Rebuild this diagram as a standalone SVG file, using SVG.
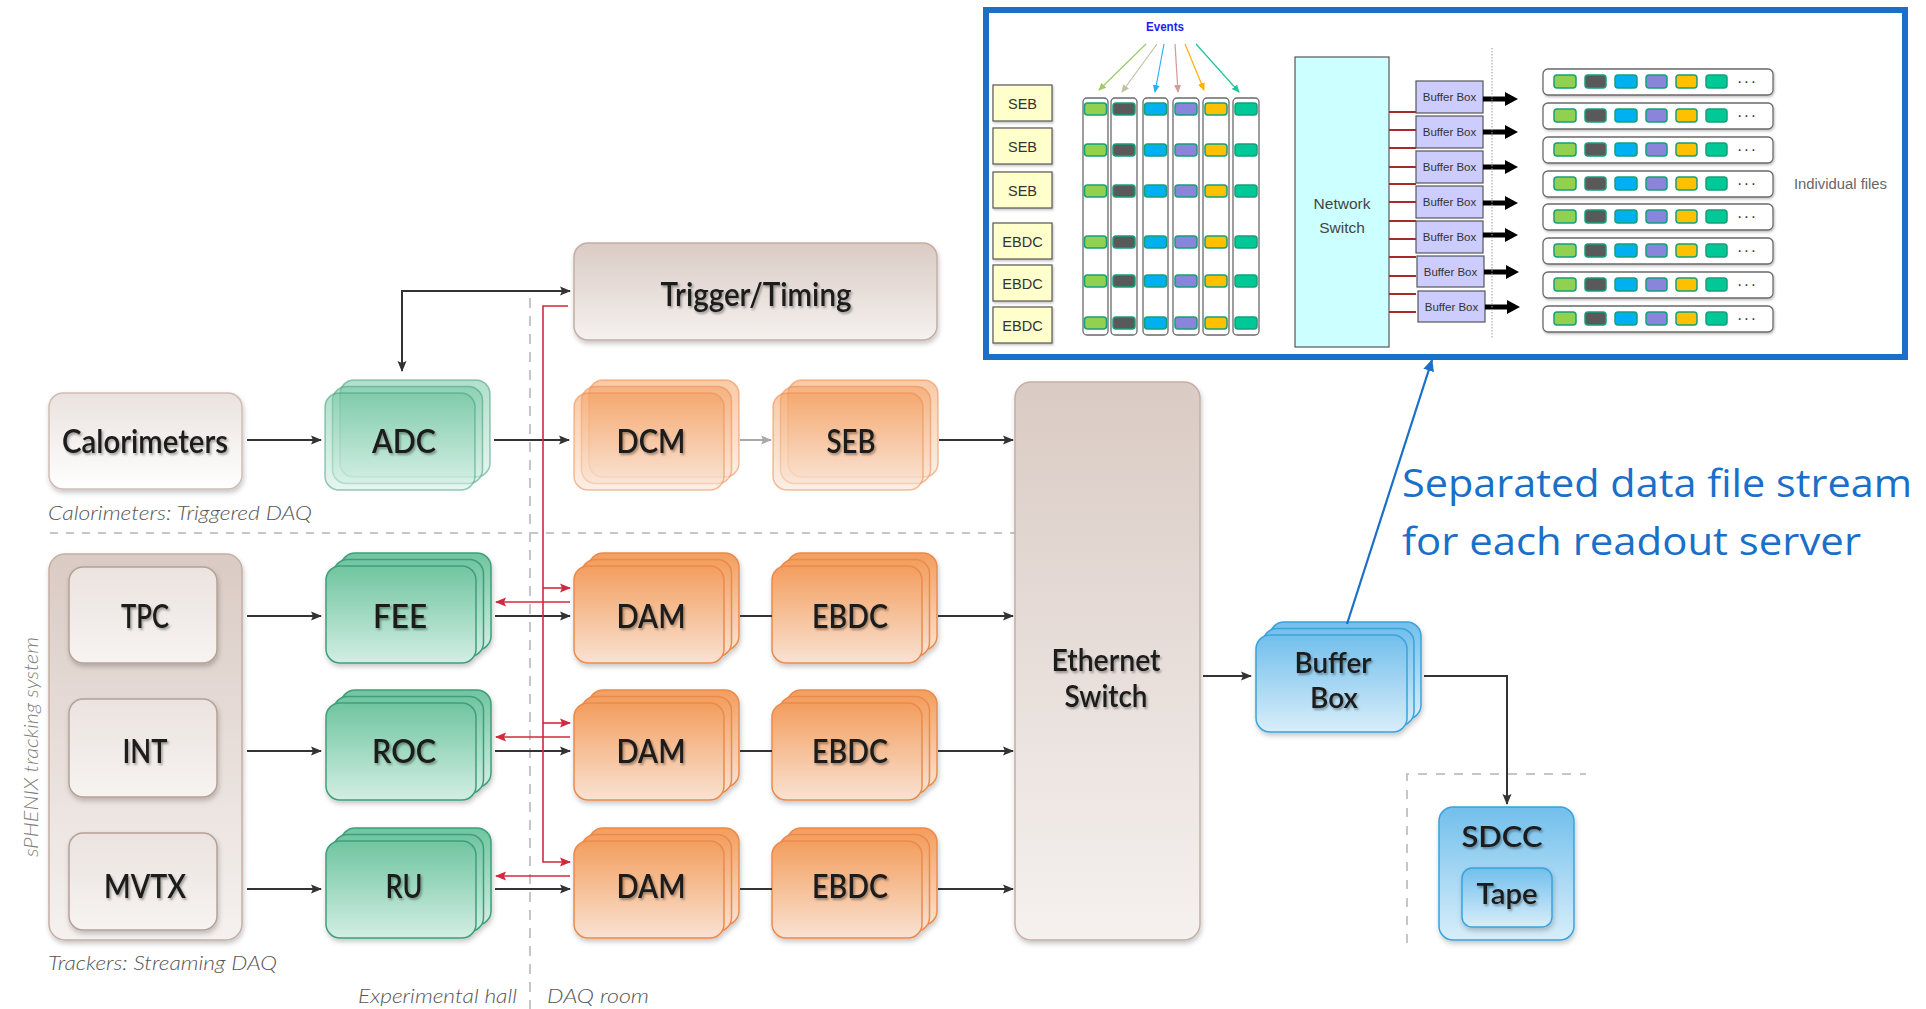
<svg xmlns="http://www.w3.org/2000/svg" width="1926" height="1009" viewBox="0 0 1926 1009">
<defs>
<style>
.lbl{font-family:Lato,"Liberation Sans",sans-serif;font-size:32px;font-weight:600;fill:#1a1a1a;text-anchor:middle;filter:url(#ts)}
.cap{font-family:Lato,"Liberation Sans",sans-serif;font-style:italic;font-weight:300;font-size:20px;fill:#555}
.ar{font-family:"Liberation Sans",Arial,sans-serif;fill:#333;text-anchor:middle}
.g rect{fill:url(#gGreen);stroke:#3f9e7b;stroke-width:1.5}
.o rect{fill:url(#gOrange);stroke:#ec8a4c;stroke-width:1.5}
.b rect{fill:url(#gBlue);stroke:#3aa3dc;stroke-width:1.5}
.fade rect{fill-opacity:.55;stroke-opacity:.55}
.beige{fill:url(#gBeige);stroke:#c4aea4;stroke-width:1.5}
.blk{stroke:#333;stroke-width:2;fill:none}
.red{stroke:#cf2a3d;stroke-width:1.6;fill:none}
.sq{stroke:#14a07a;stroke-width:1.5}
.row{fill:#fff;stroke:#6a6a6a;stroke-width:1.3}
.col{fill:#fff;stroke:#6a6a6a;stroke-width:1.3}
.yb{fill:#ffffcc;stroke:#555;stroke-width:1.2}
.bb{fill:#ccccff;stroke:#555;stroke-width:1.2}
.rl{stroke:#a52a2a;stroke-width:2}
</style>
<linearGradient id="gGreen" x1="0" y1="0" x2="0" y2="1"><stop offset="0" stop-color="#70c5a0"/><stop offset="1" stop-color="#d2eee4"/></linearGradient>
<linearGradient id="gOrange" x1="0" y1="0" x2="0" y2="1"><stop offset="0" stop-color="#f39e5e"/><stop offset="1" stop-color="#f9e2d2"/></linearGradient>
<linearGradient id="gBlue" x1="0" y1="0" x2="0" y2="1"><stop offset="0" stop-color="#72bfec"/><stop offset="1" stop-color="#d8eefa"/></linearGradient>
<linearGradient id="gBeige" x1="0" y1="0" x2="0" y2="1"><stop offset="0" stop-color="#dacbc4"/><stop offset="1" stop-color="#f5f1ef"/></linearGradient>
<linearGradient id="gCal" x1="0" y1="0" x2="0" y2="1"><stop offset="0" stop-color="#eae2de"/><stop offset="1" stop-color="#ffffff"/></linearGradient>
<linearGradient id="gDet" x1="0" y1="0" x2="0" y2="1"><stop offset="0" stop-color="#ebe3df"/><stop offset="1" stop-color="#f6f3f1"/></linearGradient>
<filter id="ts" x="-10%" y="-20%" width="130%" height="160%"><feDropShadow dx="1.5" dy="2" stdDeviation="1.3" flood-color="#000" flood-opacity="0.35"/></filter>
<filter id="bs" x="-10%" y="-10%" width="130%" height="130%"><feDropShadow dx="1" dy="3" stdDeviation="2.5" flood-color="#000" flood-opacity="0.22"/></filter>
<filter id="ss" x="-10%" y="-10%" width="130%" height="140%"><feDropShadow dx="1" dy="1.5" stdDeviation="1" flood-color="#000" flood-opacity="0.25"/></filter>
<marker id="ak" markerUnits="userSpaceOnUse" markerWidth="11" markerHeight="10" refX="10" refY="5" orient="auto-start-reverse"><path d="M0,0.5 L11,5 L0,9.5 L2,5 z" fill="#333"/></marker>
<marker id="ag" markerUnits="userSpaceOnUse" markerWidth="11" markerHeight="10" refX="10" refY="5" orient="auto"><path d="M0,0.5 L11,5 L0,9.5 L2,5 z" fill="#a8a8a8"/></marker>
<marker id="ar" markerUnits="userSpaceOnUse" markerWidth="11" markerHeight="10" refX="10" refY="5" orient="auto"><path d="M0,0.5 L11,5 L0,9.5 L2,5 z" fill="#cf2a3d"/></marker>
<marker id="ab" markerUnits="userSpaceOnUse" markerWidth="12" markerHeight="12" refX="11" refY="6" orient="auto"><path d="M0,0.5 L12,6 L0,11.5 z" fill="#1a6fc8"/></marker>
<marker id="e1" markerUnits="userSpaceOnUse" markerWidth="8" markerHeight="8" refX="7" refY="4" orient="auto"><path d="M0,0.5 L8,4 L0,7.5 z" fill="#9ccc65"/></marker>
<marker id="e2" markerUnits="userSpaceOnUse" markerWidth="8" markerHeight="8" refX="7" refY="4" orient="auto"><path d="M0,0.5 L8,4 L0,7.5 z" fill="#c5bf9f"/></marker>
<marker id="e3" markerUnits="userSpaceOnUse" markerWidth="8" markerHeight="8" refX="7" refY="4" orient="auto"><path d="M0,0.5 L8,4 L0,7.5 z" fill="#29b0f0"/></marker>
<marker id="e4" markerUnits="userSpaceOnUse" markerWidth="8" markerHeight="8" refX="7" refY="4" orient="auto"><path d="M0,0.5 L8,4 L0,7.5 z" fill="#d49c9c"/></marker>
<marker id="e5" markerUnits="userSpaceOnUse" markerWidth="8" markerHeight="8" refX="7" refY="4" orient="auto"><path d="M0,0.5 L8,4 L0,7.5 z" fill="#ffb000"/></marker>
<marker id="e6" markerUnits="userSpaceOnUse" markerWidth="8" markerHeight="8" refX="7" refY="4" orient="auto"><path d="M0,0.5 L8,4 L0,7.5 z" fill="#1fc49b"/></marker>
</defs>
<rect width="1926" height="1009" fill="#ffffff"/>

<!-- background guides -->
<g id="guides" fill="none" stroke="#c6c6c6" stroke-width="2">
<line x1="530" y1="298" x2="530" y2="1009" stroke-dasharray="10 8"/>
<line x1="50" y1="533" x2="1015" y2="533" stroke-dasharray="8 8"/>
<path d="M1407,943 V774 H1586" stroke-dasharray="9 9"/>
</g>

<!-- captions -->
<g id="captions">
<text class="cap" x="48" y="520" textLength="264" lengthAdjust="spacingAndGlyphs">Calorimeters: Triggered DAQ</text>
<text class="cap" x="48" y="970" textLength="229" lengthAdjust="spacingAndGlyphs">Trackers: Streaming DAQ</text>
<text class="cap" x="358" y="1003" textLength="159" lengthAdjust="spacingAndGlyphs">Experimental hall</text>
<text class="cap" x="547" y="1003" textLength="102" lengthAdjust="spacingAndGlyphs">DAQ room</text>
<text class="cap" transform="translate(38,747) rotate(-90)" x="0" y="0" text-anchor="middle" style="fill:#7d7d7d" textLength="220" lengthAdjust="spacingAndGlyphs">sPHENIX tracking system</text>
</g>

<!-- nodes -->
<g id="trigger" filter="url(#bs)">
<rect class="beige" x="574" y="243" width="363" height="97" rx="14"/>
</g>
<text class="lbl" x="756" y="306" textLength="191" lengthAdjust="spacingAndGlyphs">Trigger/Timing</text>

<g id="calorimeters">
<rect x="49" y="393" width="193" height="96" rx="14" fill="url(#gCal)" stroke="#cfbdb4" stroke-width="1.5" filter="url(#bs)"/>
<text class="lbl" x="145" y="453" textLength="166" lengthAdjust="spacingAndGlyphs">Calorimeters</text>
</g>

<g id="trackers">
<rect class="beige" x="49" y="554" width="193" height="386" rx="16" filter="url(#bs)"/>
</g>
<g id="tpc">
<rect x="69" y="567" width="148" height="96" rx="14" fill="url(#gDet)" stroke="#b6a196" stroke-width="1.5" filter="url(#bs)"/>
<text class="lbl" x="145" y="628" textLength="48" lengthAdjust="spacingAndGlyphs">TPC</text>
</g>
<g id="int">
<rect x="69" y="699" width="148" height="98" rx="14" fill="url(#gDet)" stroke="#b6a196" stroke-width="1.5" filter="url(#bs)"/>
<text class="lbl" x="145" y="763" textLength="45" lengthAdjust="spacingAndGlyphs">INT</text>
</g>
<g id="mvtx">
<rect x="69" y="833" width="148" height="97" rx="14" fill="url(#gDet)" stroke="#b6a196" stroke-width="1.5" filter="url(#bs)"/>
<text class="lbl" x="145" y="898" textLength="82" lengthAdjust="spacingAndGlyphs">MVTX</text>
</g>

<g id="adc">
<g class="g fade"><rect x="340" y="380" width="150" height="97" rx="14"/><rect x="332.5" y="386.5" width="150" height="97" rx="14"/><rect x="325" y="393" width="150" height="97" rx="14"/></g>
<text class="lbl" x="404" y="453" textLength="64" lengthAdjust="spacingAndGlyphs">ADC</text>
</g>
<g id="dcm">
<g class="o fade"><rect x="589" y="380" width="150" height="97" rx="14"/><rect x="581.5" y="386.5" width="150" height="97" rx="14"/><rect x="574" y="393" width="150" height="97" rx="14"/></g>
<text class="lbl" x="651" y="453" textLength="69" lengthAdjust="spacingAndGlyphs">DCM</text>
</g>
<g id="seb">
<g class="o fade"><rect x="788" y="380" width="150" height="97" rx="14"/><rect x="780.5" y="386.5" width="150" height="97" rx="14"/><rect x="773" y="393" width="150" height="97" rx="14"/></g>
<text class="lbl" x="851" y="453" textLength="49" lengthAdjust="spacingAndGlyphs">SEB</text>
</g>

<g id="fee">
<g class="g" filter="url(#bs)"><rect x="341" y="553" width="150" height="97" rx="14"/><rect x="333.5" y="559.5" width="150" height="97" rx="14"/><rect x="326" y="566" width="150" height="97" rx="14"/></g>
<text class="lbl" x="400" y="628" textLength="54" lengthAdjust="spacingAndGlyphs">FEE</text>
</g>
<g id="roc">
<g class="g" filter="url(#bs)"><rect x="341" y="690" width="150" height="97" rx="14"/><rect x="333.5" y="696.5" width="150" height="97" rx="14"/><rect x="326" y="703" width="150" height="97" rx="14"/></g>
<text class="lbl" x="404" y="763" textLength="64" lengthAdjust="spacingAndGlyphs">ROC</text>
</g>
<g id="ru">
<g class="g" filter="url(#bs)"><rect x="341" y="828" width="150" height="97" rx="14"/><rect x="333.5" y="834.5" width="150" height="97" rx="14"/><rect x="326" y="841" width="150" height="97" rx="14"/></g>
<text class="lbl" x="404" y="898" textLength="37" lengthAdjust="spacingAndGlyphs">RU</text>
</g>

<g id="dam1">
<g class="o" filter="url(#bs)"><rect x="589" y="553" width="150" height="97" rx="14"/><rect x="581.5" y="559.5" width="150" height="97" rx="14"/><rect x="574" y="566" width="150" height="97" rx="14"/></g>
<text class="lbl" x="651" y="628" textLength="69" lengthAdjust="spacingAndGlyphs">DAM</text>
</g>
<g id="dam2">
<g class="o" filter="url(#bs)"><rect x="589" y="690" width="150" height="97" rx="14"/><rect x="581.5" y="696.5" width="150" height="97" rx="14"/><rect x="574" y="703" width="150" height="97" rx="14"/></g>
<text class="lbl" x="651" y="763" textLength="69" lengthAdjust="spacingAndGlyphs">DAM</text>
</g>
<g id="dam3">
<g class="o" filter="url(#bs)"><rect x="589" y="828" width="150" height="97" rx="14"/><rect x="581.5" y="834.5" width="150" height="97" rx="14"/><rect x="574" y="841" width="150" height="97" rx="14"/></g>
<text class="lbl" x="651" y="898" textLength="69" lengthAdjust="spacingAndGlyphs">DAM</text>
</g>
<g id="ebdc1">
<g class="o" filter="url(#bs)"><rect x="787" y="553" width="150" height="97" rx="14"/><rect x="779.5" y="559.5" width="150" height="97" rx="14"/><rect x="772" y="566" width="150" height="97" rx="14"/></g>
<text class="lbl" x="850" y="628" textLength="76" lengthAdjust="spacingAndGlyphs">EBDC</text>
</g>
<g id="ebdc2">
<g class="o" filter="url(#bs)"><rect x="787" y="690" width="150" height="97" rx="14"/><rect x="779.5" y="696.5" width="150" height="97" rx="14"/><rect x="772" y="703" width="150" height="97" rx="14"/></g>
<text class="lbl" x="850" y="763" textLength="76" lengthAdjust="spacingAndGlyphs">EBDC</text>
</g>
<g id="ebdc3">
<g class="o" filter="url(#bs)"><rect x="787" y="828" width="150" height="97" rx="14"/><rect x="779.5" y="834.5" width="150" height="97" rx="14"/><rect x="772" y="841" width="150" height="97" rx="14"/></g>
<text class="lbl" x="850" y="898" textLength="76" lengthAdjust="spacingAndGlyphs">EBDC</text>
</g>

<g id="ethernet">
<rect class="beige" x="1015" y="382" width="185" height="558" rx="16" filter="url(#bs)"/>
<text class="lbl" x="1106" y="671" style="font-size:30px" textLength="109" lengthAdjust="spacingAndGlyphs">Ethernet</text>
<text class="lbl" x="1106" y="707" style="font-size:30px" textLength="83" lengthAdjust="spacingAndGlyphs">Switch</text>
</g>

<g id="bufferbox">
<g class="b" filter="url(#bs)"><rect x="1270" y="622" width="151" height="97" rx="14"/><rect x="1263" y="628.5" width="151" height="97" rx="14"/><rect x="1256" y="635" width="151" height="97" rx="14"/></g>
<text class="lbl" x="1333" y="673" style="font-size:28px" textLength="77" lengthAdjust="spacingAndGlyphs">Buffer</text>
<text class="lbl" x="1334" y="708" style="font-size:28px" textLength="48" lengthAdjust="spacingAndGlyphs">Box</text>
</g>

<g id="sdcc">
<rect x="1439" y="807" width="135" height="133" rx="14" fill="url(#gBlue)" stroke="#3aa3dc" stroke-width="1.5" filter="url(#bs)"/>
<text class="lbl" x="1502" y="847" style="font-size:29px" textLength="81" lengthAdjust="spacingAndGlyphs">SDCC</text>
<rect x="1462" y="868" width="90" height="59" rx="10" fill="url(#gBlue)" stroke="#3aa3dc" stroke-width="1.5" filter="url(#bs)"/>
<text class="lbl" x="1507" y="904" style="font-size:29px" textLength="61" lengthAdjust="spacingAndGlyphs">Tape</text>
</g>

<!-- connectors -->
<g id="connectors">
<path class="blk" d="M402,371 V291 H570" marker-start="url(#ak)" marker-end="url(#ak)"/>
<line class="blk" x1="247" y1="440" x2="321" y2="440" marker-end="url(#ak)"/>
<line class="blk" x1="494" y1="440" x2="569" y2="440" marker-end="url(#ak)"/>
<line x1="740" y1="440" x2="771" y2="440" stroke="#a8a8a8" stroke-width="2" marker-end="url(#ag)"/>
<line class="blk" x1="939" y1="440" x2="1013" y2="440" marker-end="url(#ak)"/>
<line class="blk" x1="247" y1="616" x2="321" y2="616" marker-end="url(#ak)"/>
<line class="blk" x1="247" y1="751" x2="321" y2="751" marker-end="url(#ak)"/>
<line class="blk" x1="247" y1="889" x2="321" y2="889" marker-end="url(#ak)"/>
<line class="blk" x1="495" y1="616" x2="570" y2="616" marker-end="url(#ak)"/>
<line class="blk" x1="495" y1="751" x2="570" y2="751" marker-end="url(#ak)"/>
<line class="blk" x1="495" y1="889" x2="570" y2="889" marker-end="url(#ak)"/>
<line class="blk" x1="740" y1="616" x2="772" y2="616"/>
<line class="blk" x1="740" y1="751" x2="772" y2="751"/>
<line class="blk" x1="740" y1="889" x2="772" y2="889"/>
<line class="blk" x1="938" y1="616" x2="1013" y2="616" marker-end="url(#ak)"/>
<line class="blk" x1="938" y1="751" x2="1013" y2="751" marker-end="url(#ak)"/>
<line class="blk" x1="938" y1="889" x2="1013" y2="889" marker-end="url(#ak)"/>
<line class="blk" x1="1203" y1="676" x2="1251" y2="676" marker-end="url(#ak)"/>
<path class="blk" d="M1424,676 H1507 V804" marker-end="url(#ak)"/>
<path class="red" d="M568,306 H543 V862 H570" marker-end="url(#ar)"/>
<line class="red" x1="543" y1="588" x2="570" y2="588" marker-end="url(#ar)"/>
<line class="red" x1="543" y1="723" x2="570" y2="723" marker-end="url(#ar)"/>
<line class="red" x1="570" y1="602" x2="496" y2="602" marker-end="url(#ar)"/>
<line class="red" x1="570" y1="737" x2="496" y2="737" marker-end="url(#ar)"/>
<line class="red" x1="570" y1="876" x2="496" y2="876" marker-end="url(#ar)"/>
<line x1="1347" y1="624" x2="1432" y2="360" stroke="#1a6fc8" stroke-width="2.2" marker-end="url(#ab)"/>
</g>

<g id="note" font-family="'Open Sans','Noto Sans',sans-serif" font-size="39" fill="#1a6fc8">
<text x="1402" y="497" textLength="510" lengthAdjust="spacingAndGlyphs">Separated data file stream</text>
<text x="1402" y="555" textLength="459" lengthAdjust="spacingAndGlyphs">for each readout server</text>
</g>

<!-- inset -->
<g id="inset">
<rect x="986" y="10" width="919" height="347" fill="#fff" stroke="#1a6fc8" stroke-width="6"/>
<text class="ar" x="1165" y="31" font-size="12" font-weight="bold" style="fill:#1e1ef0" textLength="38" lengthAdjust="spacingAndGlyphs">Events</text>
<g fill="none" stroke-width="1.2">
<line x1="1146" y1="44" x2="1099" y2="90" stroke="#9ccc65" marker-end="url(#e1)"/>
<line x1="1157" y1="44" x2="1122" y2="92" stroke="#c5bf9f" marker-end="url(#e2)"/>
<line x1="1164" y1="44" x2="1155" y2="92" stroke="#29b0f0" marker-end="url(#e3)"/>
<line x1="1175" y1="44" x2="1178" y2="92" stroke="#d49c9c" marker-end="url(#e4)"/>
<line x1="1185" y1="44" x2="1204" y2="90" stroke="#ffb000" marker-end="url(#e5)"/>
<line x1="1196" y1="44" x2="1239" y2="92" stroke="#1fc49b" marker-end="url(#e6)"/>
</g>
<g id="seb-ebdc-list" filter="url(#ss)">
<rect class="yb" x="993" y="85" width="59" height="36"/>
<rect class="yb" x="993" y="128" width="59" height="36"/>
<rect class="yb" x="993" y="172" width="59" height="36"/>
<rect class="yb" x="993" y="223" width="59" height="36"/>
<rect class="yb" x="993" y="265" width="59" height="36"/>
<rect class="yb" x="993" y="307" width="59" height="36"/>
</g>
<g font-size="14.5">
<text class="ar" x="1022.5" y="109">SEB</text>
<text class="ar" x="1022.5" y="152">SEB</text>
<text class="ar" x="1022.5" y="196">SEB</text>
<text class="ar" x="1022.5" y="247">EBDC</text>
<text class="ar" x="1022.5" y="289">EBDC</text>
<text class="ar" x="1022.5" y="331">EBDC</text>
</g>
<g id="columns">
<rect class="col" x="1083" y="98" width="25" height="237" rx="4"/>
<rect class="col" x="1111" y="98" width="26" height="237" rx="4"/>
<rect class="col" x="1143" y="98" width="25" height="237" rx="4"/>
<rect class="col" x="1173" y="98" width="26" height="237" rx="4"/>
<rect class="col" x="1203" y="98" width="26" height="237" rx="4"/>
<rect class="col" x="1233" y="98" width="26" height="237" rx="4"/>
</g>
<g id="colsq">
<g fill="#92d050" class="sq"><rect x="1084.5" y="103" width="22" height="12" rx="3"/><rect x="1084.5" y="144" width="22" height="12" rx="3"/><rect x="1084.5" y="185" width="22" height="12" rx="3"/><rect x="1084.5" y="236" width="22" height="12" rx="3"/><rect x="1084.5" y="275" width="22" height="12" rx="3"/><rect x="1084.5" y="317" width="22" height="12" rx="3"/></g>
<g fill="#595959" class="sq"><rect x="1113" y="103" width="22" height="12" rx="3"/><rect x="1113" y="144" width="22" height="12" rx="3"/><rect x="1113" y="185" width="22" height="12" rx="3"/><rect x="1113" y="236" width="22" height="12" rx="3"/><rect x="1113" y="275" width="22" height="12" rx="3"/><rect x="1113" y="317" width="22" height="12" rx="3"/></g>
<g fill="#00b0f0" class="sq"><rect x="1144.5" y="103" width="22" height="12" rx="3"/><rect x="1144.5" y="144" width="22" height="12" rx="3"/><rect x="1144.5" y="185" width="22" height="12" rx="3"/><rect x="1144.5" y="236" width="22" height="12" rx="3"/><rect x="1144.5" y="275" width="22" height="12" rx="3"/><rect x="1144.5" y="317" width="22" height="12" rx="3"/></g>
<g fill="#8985da" class="sq"><rect x="1175" y="103" width="22" height="12" rx="3"/><rect x="1175" y="144" width="22" height="12" rx="3"/><rect x="1175" y="185" width="22" height="12" rx="3"/><rect x="1175" y="236" width="22" height="12" rx="3"/><rect x="1175" y="275" width="22" height="12" rx="3"/><rect x="1175" y="317" width="22" height="12" rx="3"/></g>
<g fill="#ffc000" class="sq"><rect x="1205" y="103" width="22" height="12" rx="3"/><rect x="1205" y="144" width="22" height="12" rx="3"/><rect x="1205" y="185" width="22" height="12" rx="3"/><rect x="1205" y="236" width="22" height="12" rx="3"/><rect x="1205" y="275" width="22" height="12" rx="3"/><rect x="1205" y="317" width="22" height="12" rx="3"/></g>
<g fill="#00c896" class="sq"><rect x="1235" y="103" width="22" height="12" rx="3"/><rect x="1235" y="144" width="22" height="12" rx="3"/><rect x="1235" y="185" width="22" height="12" rx="3"/><rect x="1235" y="236" width="22" height="12" rx="3"/><rect x="1235" y="275" width="22" height="12" rx="3"/><rect x="1235" y="317" width="22" height="12" rx="3"/></g>
</g>
<g id="network-switch">
<rect x="1295" y="57" width="94" height="290" fill="#ccffff" stroke="#555" stroke-width="1.2"/>
<text class="ar" x="1342" y="209" font-size="15.5" style="fill:#444">Network</text>
<text class="ar" x="1342" y="233" font-size="15.5" style="fill:#444">Switch</text>
</g>
<g id="switch-links">
<line class="rl" x1="1389" y1="112" x2="1416" y2="112"/>
<line class="rl" x1="1389" y1="130" x2="1416" y2="130"/>
<line class="rl" x1="1389" y1="148" x2="1416" y2="148"/>
<line class="rl" x1="1389" y1="167" x2="1416" y2="167"/>
<line class="rl" x1="1389" y1="184" x2="1416" y2="184"/>
<line class="rl" x1="1389" y1="202" x2="1416" y2="202"/>
<line class="rl" x1="1389" y1="221" x2="1416" y2="221"/>
<line class="rl" x1="1389" y1="239" x2="1416" y2="239"/>
<line class="rl" x1="1389" y1="257" x2="1416" y2="257"/>
<line class="rl" x1="1389" y1="276" x2="1416" y2="276"/>
<line class="rl" x1="1389" y1="294" x2="1416" y2="294"/>
<line class="rl" x1="1389" y1="312" x2="1416" y2="312"/>
</g>
<g id="buffer-boxes">
<rect class="bb" x="1416" y="81" width="67" height="32"/>
<rect class="bb" x="1416" y="116" width="67" height="32"/>
<rect class="bb" x="1416" y="151" width="67" height="32"/>
<rect class="bb" x="1416" y="186" width="67" height="32"/>
<rect class="bb" x="1416" y="221" width="67" height="32"/>
<rect class="bb" x="1417" y="256" width="67" height="31"/>
<rect class="bb" x="1418" y="291" width="67" height="31"/>
<g font-size="11.5">
<text class="ar" x="1449.5" y="101">Buffer Box</text>
<text class="ar" x="1449.5" y="136">Buffer Box</text>
<text class="ar" x="1449.5" y="171">Buffer Box</text>
<text class="ar" x="1449.5" y="206">Buffer Box</text>
<text class="ar" x="1449.5" y="241">Buffer Box</text>
<text class="ar" x="1450.5" y="276">Buffer Box</text>
<text class="ar" x="1451.5" y="311">Buffer Box</text>
</g>
<g fill="#000">
<polygon points="1483,96.5 1505,96.5 1505,92 1518,99 1505,106 1505,101.5 1483,101.5"/>
<polygon points="1483,129.5 1505,129.5 1505,125 1518,132 1505,139 1505,134.5 1483,134.5"/>
<polygon points="1483,164.5 1505,164.5 1505,160 1518,167 1505,174 1505,169.5 1483,169.5"/>
<polygon points="1483,200.5 1505,200.5 1505,196 1518,203 1505,210 1505,205.5 1483,205.5"/>
<polygon points="1483,232.5 1505,232.5 1505,228 1518,235 1505,242 1505,237.5 1483,237.5"/>
<polygon points="1484,269.5 1506,269.5 1506,265 1519,272 1506,279 1506,274.5 1484,274.5"/>
<polygon points="1485,304.5 1507,304.5 1507,300 1520,307 1507,314 1507,309.5 1485,309.5"/>
</g>
</g>
<line x1="1492" y1="48" x2="1492" y2="338" stroke="#999" stroke-width="1" stroke-dasharray="1.5 1.5"/>
<g id="files">
<g filter="url(#ss)">
<rect class="row" x="1543" y="69" width="230" height="26" rx="5"/>
<rect class="row" x="1543" y="103" width="230" height="26" rx="5"/>
<rect class="row" x="1543" y="137" width="230" height="26" rx="5"/>
<rect class="row" x="1543" y="171" width="230" height="26" rx="5"/>
<rect class="row" x="1543" y="204" width="230" height="26" rx="5"/>
<rect class="row" x="1543" y="238" width="230" height="26" rx="5"/>
<rect class="row" x="1543" y="272" width="230" height="26" rx="5"/>
<rect class="row" x="1543" y="306" width="230" height="26" rx="5"/>
</g>
<g fill="#92d050" class="sq"><rect x="1554" y="75" width="22" height="13" rx="3"/><rect x="1554" y="109" width="22" height="13" rx="3"/><rect x="1554" y="143" width="22" height="13" rx="3"/><rect x="1554" y="177" width="22" height="13" rx="3"/><rect x="1554" y="210" width="22" height="13" rx="3"/><rect x="1554" y="244" width="22" height="13" rx="3"/><rect x="1554" y="278" width="22" height="13" rx="3"/><rect x="1554" y="312" width="22" height="13" rx="3"/></g>
<g fill="#595959" class="sq"><rect x="1585" y="75" width="21" height="13" rx="3"/><rect x="1585" y="109" width="21" height="13" rx="3"/><rect x="1585" y="143" width="21" height="13" rx="3"/><rect x="1585" y="177" width="21" height="13" rx="3"/><rect x="1585" y="210" width="21" height="13" rx="3"/><rect x="1585" y="244" width="21" height="13" rx="3"/><rect x="1585" y="278" width="21" height="13" rx="3"/><rect x="1585" y="312" width="21" height="13" rx="3"/></g>
<g fill="#00b0f0" class="sq"><rect x="1615" y="75" width="22" height="13" rx="3"/><rect x="1615" y="109" width="22" height="13" rx="3"/><rect x="1615" y="143" width="22" height="13" rx="3"/><rect x="1615" y="177" width="22" height="13" rx="3"/><rect x="1615" y="210" width="22" height="13" rx="3"/><rect x="1615" y="244" width="22" height="13" rx="3"/><rect x="1615" y="278" width="22" height="13" rx="3"/><rect x="1615" y="312" width="22" height="13" rx="3"/></g>
<g fill="#8985da" class="sq"><rect x="1646" y="75" width="21" height="13" rx="3"/><rect x="1646" y="109" width="21" height="13" rx="3"/><rect x="1646" y="143" width="21" height="13" rx="3"/><rect x="1646" y="177" width="21" height="13" rx="3"/><rect x="1646" y="210" width="21" height="13" rx="3"/><rect x="1646" y="244" width="21" height="13" rx="3"/><rect x="1646" y="278" width="21" height="13" rx="3"/><rect x="1646" y="312" width="21" height="13" rx="3"/></g>
<g fill="#ffc000" class="sq"><rect x="1676" y="75" width="21" height="13" rx="3"/><rect x="1676" y="109" width="21" height="13" rx="3"/><rect x="1676" y="143" width="21" height="13" rx="3"/><rect x="1676" y="177" width="21" height="13" rx="3"/><rect x="1676" y="210" width="21" height="13" rx="3"/><rect x="1676" y="244" width="21" height="13" rx="3"/><rect x="1676" y="278" width="21" height="13" rx="3"/><rect x="1676" y="312" width="21" height="13" rx="3"/></g>
<g fill="#00c896" class="sq"><rect x="1706" y="75" width="21" height="13" rx="3"/><rect x="1706" y="109" width="21" height="13" rx="3"/><rect x="1706" y="143" width="21" height="13" rx="3"/><rect x="1706" y="177" width="21" height="13" rx="3"/><rect x="1706" y="210" width="21" height="13" rx="3"/><rect x="1706" y="244" width="21" height="13" rx="3"/><rect x="1706" y="278" width="21" height="13" rx="3"/><rect x="1706" y="312" width="21" height="13" rx="3"/></g>
<g font-family="'Liberation Sans',Arial,sans-serif" font-size="16" fill="#333" letter-spacing="1.5">
<text x="1737" y="87">···</text>
<text x="1737" y="121">···</text>
<text x="1737" y="155">···</text>
<text x="1737" y="189">···</text>
<text x="1737" y="222">···</text>
<text x="1737" y="256">···</text>
<text x="1737" y="290">···</text>
<text x="1737" y="324">···</text>
</g>
</g>
<text x="1794" y="189" font-family="'Liberation Sans',Arial,sans-serif" font-size="14" fill="#666" textLength="93" lengthAdjust="spacingAndGlyphs">Individual files</text>
</g>
</svg>
